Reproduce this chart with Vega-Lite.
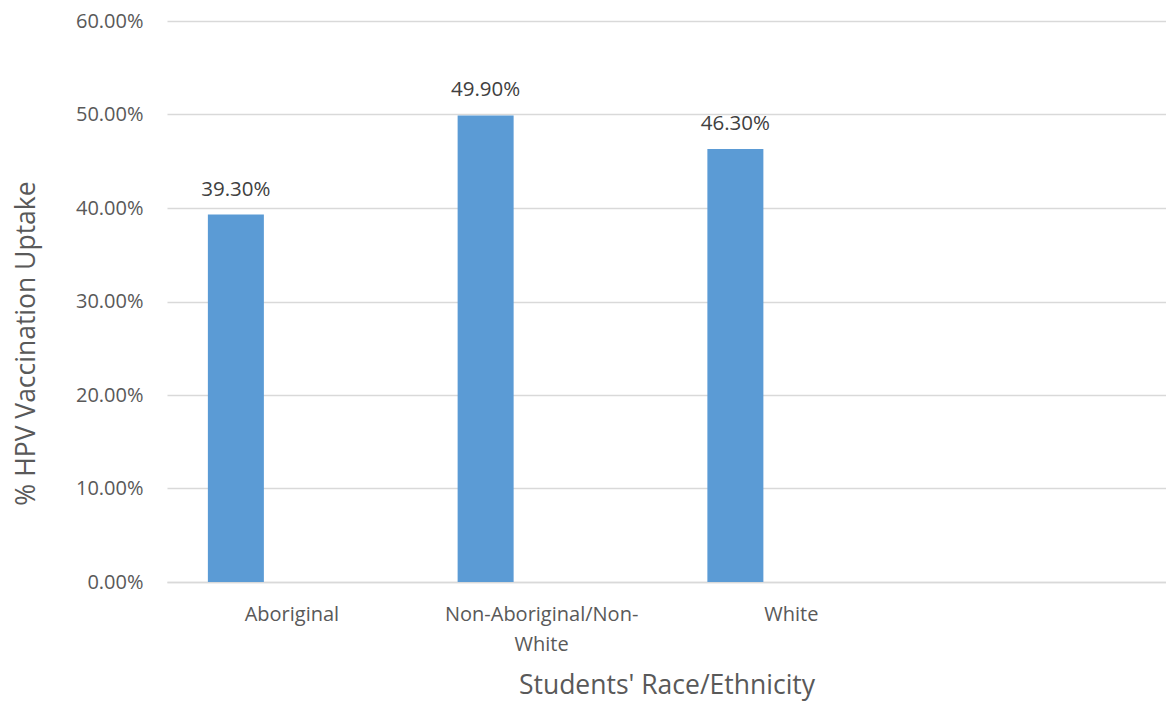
{
  "$schema": "https://vega.github.io/schema/vega-lite/v6.json",
  "width": 999,
  "height": 561,
  "autosize": {"type": "none"},
  "padding": {"left": 167, "top": 21, "right": 0, "bottom": 122},
  "background": "#ffffff",
  "config": {
    "font": "Open Sans",
    "view": {"stroke": null}
  },
  "data": {
    "values": [
      {"group": "Aboriginal", "series": "Uptake", "uptake": 0.393},
      {"group": "Non-Aboriginal/Non-White", "series": "Uptake", "uptake": 0.499},
      {"group": "White", "series": "Uptake", "uptake": 0.463}
    ]
  },
  "encoding": {
    "x": {
      "field": "group",
      "type": "nominal",
      "sort": null,
      "scale": {
        "domain": ["Aboriginal", "Non-Aboriginal/Non-White", "White", ""],
        "paddingInner": 0,
        "paddingOuter": 0
      },
      "axis": {
        "title": "Students' Race/Ethnicity",
        "titleFontSize": 26.5,
        "titleFontWeight": "normal",
        "titleColor": "#595959",
        "titleY": 103,
        "titleBaseline": "middle",
        "labelAngle": 0,
        "labelFontSize": 20,
        "labelColor": "#595959",
        "labelPadding": 22,
        "labelLineHeight": 30,
        "labelLimit": 0,
        "labelExpr": "datum.value == 'Non-Aboriginal/Non-White' ? ['Non-Aboriginal/Non-', 'White'] : datum.value",
        "ticks": false,
        "domainColor": "#D9D9D9",
        "domainWidth": 1.3,
        "grid": false
      }
    },
    "xOffset": {
      "field": "series",
      "type": "nominal",
      "scale": {
        "domain": ["Uptake", "Series 2", "Series 3"],
        "paddingInner": 0,
        "paddingOuter": 0.73
      }
    },
    "y": {
      "field": "uptake",
      "type": "quantitative",
      "scale": {"domain": [0, 0.6], "nice": false},
      "axis": {
        "title": "% HPV Vaccination Uptake",
        "titleFontSize": 26.5,
        "titleFontWeight": "normal",
        "titleColor": "#595959",
        "titleX": -141,
        "titleY": 322,
        "titleAlign": "center",
        "titleBaseline": "middle",
        "values": [0, 0.1, 0.2, 0.3, 0.4, 0.5, 0.6],
        "format": ".2%",
        "labelFontSize": 20,
        "labelColor": "#595959",
        "labelPadding": 24,
        "ticks": false,
        "domain": false,
        "gridColor": "#D9D9D9",
        "gridWidth": 1.3
      }
    }
  },
  "layer": [
    {
      "mark": {"type": "bar", "color": "#5B9BD5"}
    },
    {
      "mark": {
        "type": "text",
        "baseline": "middle",
        "dy": -25,
        "fontSize": 20.5,
        "color": "#404040"
      },
      "encoding": {
        "text": {"field": "uptake", "type": "quantitative", "format": ".2%"}
      }
    }
  ]
}
